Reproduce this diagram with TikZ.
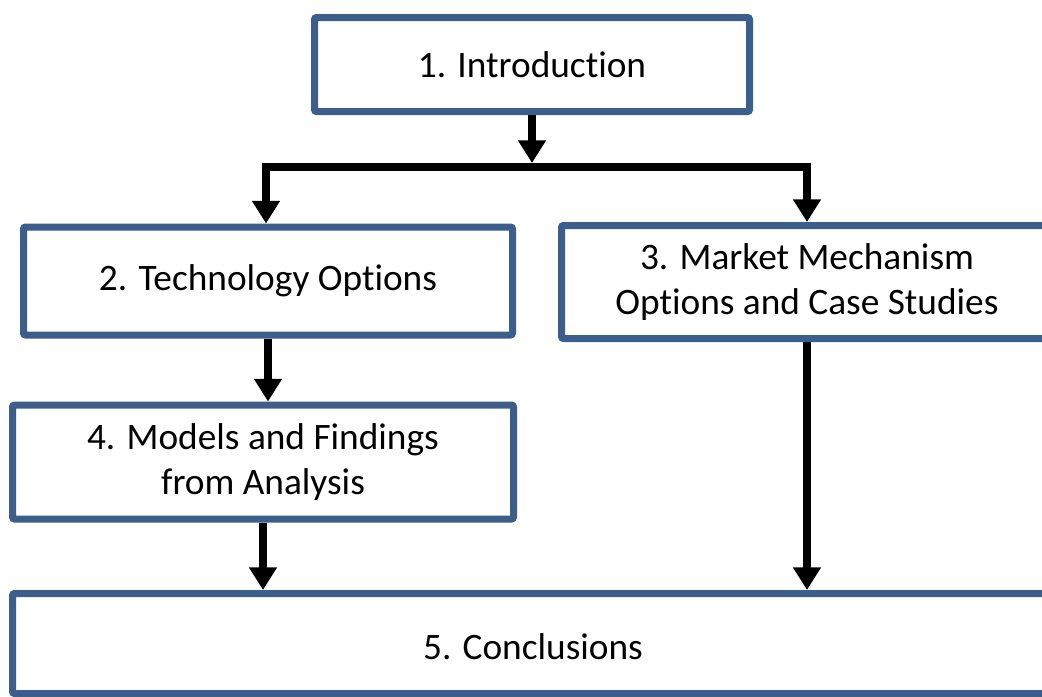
\documentclass[tikz,border=0pt]{standalone}
\usepackage{fontspec}
\setmainfont{Carlito}[Ligatures=NoCommon]
\usetikzlibrary{arrows.meta}
\definecolor{boxblue}{HTML}{3B5E8B}
\tikzset{
  box/.style={draw=boxblue, line width=5.25pt, rounded corners=1.5pt, fill=white,
    align=center, font=\fontsize{28pt}{34pt}\selectfont, inner sep=0pt, outer sep=0.5\pgflinewidth},
  wh/.style 2 args={minimum width=#1*0.75pt, minimum height=#2*0.75pt},
  txt/.style={align=center, font=\fontsize{28pt}{34pt}\selectfont, inner sep=0pt},
  conn/.style={draw=black, line width=6.4pt, line join=miter},
  arr/.style={conn, -{Triangle[width=20pt,length=17pt]}}
}
\begin{document}
\begin{tikzpicture}[x=0.75pt, y=-0.75pt]
\clip (0,0) rectangle (1042,696);
\fill[white] (0,0) rectangle (1042,696);
% boxes
\node[box, wh={435}{94}]  (b1) at (532,64.5) {1. Introduction};
\node[box, wh={489}{108}] (b2) at (268,281) {2. Technology Options};
\node[box, wh={491}{113}] (b3) at (807,282) {3. Market Mechanism\\Options and Case Studies};
\node[box, wh={501}{114}] (b4) at (263,462) {4. Models and Findings\\from Analysis};
\node[box, wh={1041}{100}] (b5) at (533,643.5) {};
\node[txt] (t5) at (533,647) {5. Conclusions};
% junction
\coordinate (jm) at (532,167);
\coordinate (jt) at (532,163);
\coordinate (jl) at (266,167);
\coordinate (jr) at (807,167);
% connectors
\draw[arr] (b1.south) -- (jt);
\draw[arr] (jm) -| (jl |- b2.north);
\draw[arr] (jm) -| (jr |- b3.north);
\draw[arr] (b2.south) -- (b2.south |- b4.north);
\draw[arr] (b4.south) -- (b4.south |- b5.north);
\draw[arr] (b3.south) -- (b3.south |- b5.north);
\end{tikzpicture}
\end{document}
